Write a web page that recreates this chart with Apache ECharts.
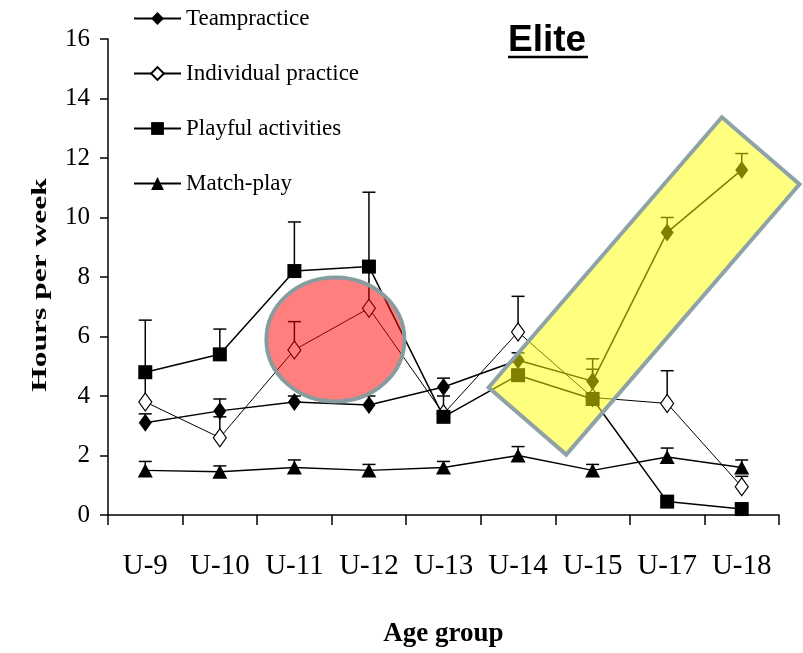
<!DOCTYPE html>
<html>
<head>
<meta charset="utf-8">
<script src="https://cdn.jsdelivr.net/npm/echarts@6/dist/echarts.min.js"></script>
<style>
  html, body { margin: 0; padding: 0; background: #fff; }
  #chart { width: 803px; height: 653px; }
</style>
</head>
<body>
<div id="chart"></div>
<script>
// Weekly hours by age group, elite players (mean with upper error bar)
const ageGroups = ['U-9', 'U-10', 'U-11', 'U-12', 'U-13', 'U-14', 'U-15', 'U-17', 'U-18'];

const teamPractice       = [3.1, 3.5, 3.8, 3.7, 4.3, 5.2, 4.5, 9.5, 11.6];
const teamPracticeUpper  = [3.4, 3.9, 4.0, 4.0, 4.6, 5.45, 5.25, 10.0, 12.15];

const individualPractice      = [3.8, 2.6, 5.55, 6.95, 3.4, 6.15, 3.95, 3.75, 0.95];
const individualPracticeUpper = [4.6, 3.3, 6.5, 8.3, 4.0, 7.35, 4.9, 4.85, 1.3];

const playfulActivities      = [4.8, 5.4, 8.2, 8.35, 3.3, 4.7, 3.9, 0.45, 0.2];
const playfulActivitiesUpper = [6.55, 6.25, 9.85, 10.85, null, null, null, null, null];

const matchPlay      = [1.5, 1.45, 1.6, 1.5, 1.6, 2.0, 1.5, 1.95, 1.6];
const matchPlayUpper = [1.8, 1.65, 1.85, 1.7, 1.8, 2.3, 1.7, 2.25, 1.85];

const hoursAxis = { min: 0, max: 16, interval: 2 };

// Highlight anchors: [left category, right category, fraction between them, hours]
const circleAnchor = ['U-11', 'U-12', 0.55, 5.9];
const boxAnchor    = ['U-15', 'U-17', 0.69, 7.7];

const serif = '"Liberation Serif", "Times New Roman", serif';
const black = '#000';

function errorBars(values, uppers) {
  const data = [];
  values.forEach((v, i) => {
    if (uppers[i] != null) data.push([i, v, uppers[i]]);
  });
  return {
    type: 'custom',
    silent: true,
    z: 1,
    data: data,
    encode: { x: 0, y: [1, 2] },
    renderItem(params, api) {
      const base = api.coord([api.value(0), api.value(1)]);
      const top = api.coord([api.value(0), api.value(2)]);
      const half = 6.5;
      const style = { stroke: black, lineWidth: 1.5 };
      return {
        type: 'group',
        children: [
          { type: 'line', shape: { x1: base[0], y1: base[1], x2: top[0], y2: top[1] }, style },
          { type: 'line', shape: { x1: top[0] - half, y1: top[1], x2: top[0] + half, y2: top[1] }, style }
        ]
      };
    }
  };
}

const chart = echarts.init(document.getElementById('chart'), null, { renderer: 'canvas' });

chart.setOption({
  animation: false,
  backgroundColor: '#fff',
  title: {
    text: 'Elite',
    left: 508,
    top: 22,
    padding: 0,
    textStyle: { fontFamily: '"Liberation Sans", Arial, sans-serif', fontWeight: 'bold', fontSize: 37, color: black }
  },
  legend: {
    orient: 'vertical',
    left: 128,
    top: 2,
    itemWidth: 47,
    itemHeight: 16,
    itemGap: 32,
    selectedMode: false,
    textStyle: { fontFamily: serif, fontSize: 23, color: black, lineHeight: 23 },
    data: ['Teampractice', 'Individual practice', 'Playful activities', 'Match-play']
  },
  grid: { left: 108, right: 24, top: 39, bottom: 138, containLabel: false, outerBoundsMode: 'none' },
  xAxis: {
    type: 'category',
    data: ageGroups,
    boundaryGap: true,
    name: 'Age group',
    nameLocation: 'middle',
    nameGap: 106,
    nameTextStyle: { fontFamily: serif, fontWeight: 'bold', fontSize: 27, color: black },
    axisLine: { lineStyle: { color: black, width: 1.5 } },
    axisTick: { show: true, length: 10, lineStyle: { color: black, width: 1.5 } },
    axisLabel: { fontFamily: serif, fontSize: 29, color: black, margin: 37, interval: 0 },
    splitLine: { show: false }
  },
  yAxis: {
    type: 'value',
    min: hoursAxis.min,
    max: hoursAxis.max,
    interval: hoursAxis.interval,
    axisLine: { show: true, lineStyle: { color: black, width: 1.5 } },
    axisTick: { show: true, length: 8, lineStyle: { color: black, width: 1.5 } },
    axisLabel: { fontFamily: serif, fontSize: 25, color: black, margin: 18 },
    splitLine: { show: false }
  },
  series: [
    errorBars(teamPractice, teamPracticeUpper),
    errorBars(individualPractice, individualPracticeUpper),
    errorBars(playfulActivities, playfulActivitiesUpper),
    errorBars(matchPlay, matchPlayUpper),
    {
      type: 'line', name: 'Teampractice', data: teamPractice,
      symbol: 'diamond', symbolSize: [13, 18], z: 3,
      lineStyle: { color: black, width: 1.5 },
      itemStyle: { color: black }
    },
    {
      type: 'line', name: 'Individual practice', data: individualPractice,
      symbol: 'diamond', symbolSize: [13, 18], z: 2,
      lineStyle: { color: black, width: 1 },
      itemStyle: { color: '#fff', borderColor: black, borderWidth: 1.2 }
    },
    {
      type: 'line', name: 'Playful activities', data: playfulActivities,
      symbol: 'rect', symbolSize: 14, z: 3,
      lineStyle: { color: black, width: 1.5 },
      itemStyle: { color: black }
    },
    {
      type: 'line', name: 'Match-play', data: matchPlay,
      symbol: 'triangle', symbolSize: [15, 14], z: 3,
      lineStyle: { color: black, width: 1.5 },
      itemStyle: { color: black }
    }
  ]
});

// Place highlight shapes in data space once the grid is laid out
function anchorPixel(anchor) {
  const a = chart.convertToPixel({ gridIndex: 0 }, [anchor[0], anchor[3]]);
  const b = chart.convertToPixel({ gridIndex: 0 }, [anchor[1], anchor[3]]);
  return [a[0] + (b[0] - a[0]) * anchor[2], a[1]];
}

const circleAt = anchorPixel(circleAnchor);
const boxAt = anchorPixel(boxAnchor);

chart.setOption({
  graphic: [
    {
      type: 'line', z: 10,
      shape: { x1: 508, y1: 57, x2: 588, y2: 57 },
      style: { stroke: black, lineWidth: 2.5 }
    },
    {
      type: 'text', z: 10,
      x: 41, y: 285,
      rotation: Math.PI / 2,
      scaleX: 1.5,
      style: {
        text: 'Hours per week',
        font: 'bold 21px "Liberation Serif", serif',
        fill: black,
        align: 'center',
        verticalAlign: 'middle'
      }
    },
    {
      type: 'ellipse', z: 100,
      shape: { cx: circleAt[0], cy: circleAt[1], rx: 69, ry: 62 },
      style: { fill: 'rgba(255, 0, 0, 0.5)', stroke: '#889c9f', lineWidth: 4 }
    },
    {
      type: 'rect', z: 100,
      x: boxAt[0], y: boxAt[1],
      rotation: 49.2 * Math.PI / 180,
      shape: { x: -178.5, y: -51.3, width: 357, height: 102.6 },
      style: { fill: 'rgba(255, 255, 0, 0.5)', stroke: '#8fa3a6', lineWidth: 4 }
    }
  ]
});
</script>
</body>
</html>
